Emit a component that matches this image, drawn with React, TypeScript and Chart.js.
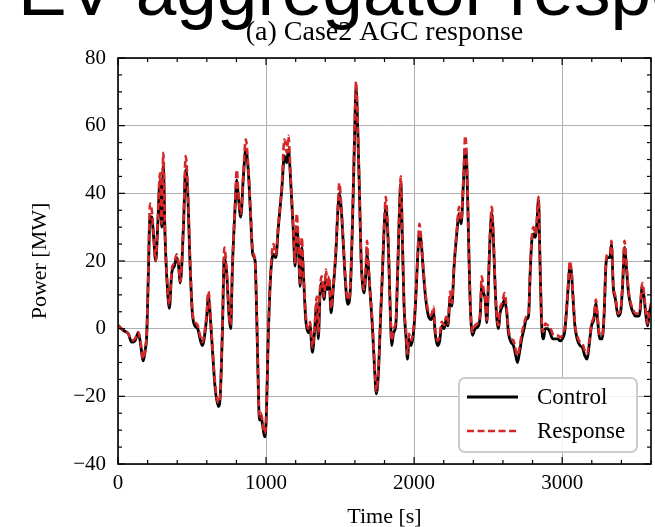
import React, { useEffect, useRef } from 'react';
import { Chart, registerables } from 'chart.js';

Chart.register(...registerables);

const MAIN_TITLE = 'EV aggregator response';
const SUBTITLE = '(a) Case2 AGC response';
const X_LABEL = 'Time [s]';
const Y_LABEL = 'Power [MW]';
const SERIES_LABELS = ['Control', 'Response'];
const X_TICKS = [0, 1000, 2000, 3000];
const Y_TICKS = [-40, -20, 0, 20, 40, 60, 80];

const TIME = [
  0, 35, 70, 92, 115, 137, 149, 171, 185, 194, 205, 216, 228, 239, 255, 268, 284, 295, 306, 318,
  333, 347, 363, 381, 396, 408, 421, 442, 457, 471, 486, 502, 520, 538, 554, 570, 588, 600, 610, 633,
  655, 678, 689, 705, 718, 734, 750, 761, 773, 791, 802, 813, 829, 847, 863, 881, 896, 910, 926, 937,
  948, 955, 965, 975, 990, 1000, 1016, 1032, 1050, 1066, 1083, 1106, 1124, 1140, 1151, 1167, 1185, 1196, 1207, 1219,
  1230, 1241, 1253, 1268, 1286, 1297, 1313, 1327, 1343, 1353, 1365, 1376, 1392, 1405, 1414, 1426, 1439, 1455, 1471, 1485,
  1495, 1507, 1523, 1538, 1552, 1568, 1583, 1597, 1608, 1620, 1631, 1642, 1653, 1662, 1674, 1682, 1691, 1703, 1718, 1732,
  1745, 1759, 1773, 1786, 1800, 1809, 1815, 1827, 1838, 1849, 1861, 1876, 1890, 1901, 1910, 1921, 1932, 1946, 1955, 1966,
  1980, 1996, 2011, 2025, 2036, 2047, 2063, 2079, 2097, 2115, 2131, 2142, 2158, 2171, 2187, 2203, 2216, 2228, 2243, 2255,
  2270, 2288, 2304, 2318, 2333, 2345, 2356, 2367, 2378, 2394, 2412, 2435, 2446, 2457, 2469, 2480, 2491, 2502, 2514, 2525,
  2536, 2547, 2559, 2570, 2581, 2597, 2610, 2626, 2637, 2655, 2671, 2682, 2698, 2712, 2727, 2743, 2757, 2773, 2784, 2795,
  2806, 2818, 2829, 2840, 2851, 2862, 2874, 2885, 2903, 2919, 2935, 2953, 2971, 2986, 3002, 3016, 3025, 3041, 3052, 3063,
  3074, 3086, 3101, 3120, 3137, 3153, 3169, 3182, 3198, 3214, 3228, 3239, 3255, 3270, 3284, 3295, 3306, 3322, 3333, 3345,
  3360, 3378, 3394, 3408, 3421, 3435, 3448, 3464, 3480, 3498, 3514, 3525, 3541, 3555, 3566, 3577, 3589, 3600,
];

const CONTROL = [
  1, -0.5, -1.5, -4, -3.6, -1.2, -3.5, -9.5, -6, -2, 16, 33, 33, 28, 20, 30, 44, 30, 48, 27,
  12.5, 6, 16.5, 18.5, 21, 19, 13.5, 30, 47, 40, 20, 4.7, 0.8, 0, -3, -5, -1, 4, 9.6, -3,
  -17, -23, -21, -1, 21, 16.5, 3.7, 0, 18.4, 36, 44, 39, 33, 45, 53, 46, 33, 22, 20, 3.7,
  -18, -27, -26, -28, -32, -28, -1, 16.5, 22, 21, 30, 41, 51, 49, 53, 43, 28, 18.5, 30, 24,
  12.5, 24, 15.5, 2.7, -1.2, 0.8, -7, -1.2, 7.6, -3, 10.6, 13.5, 8.6, 14.5, 11.6, 14.5, 4.7, 12.5, 22, 35,
  40, 36, 24, 12.5, 7.2, 10.6, 30, 55, 71, 58, 40, 20.4, 12.5, 10.6, 16.5, 22, 18.4, 10.6, 0.8, -11,
  -19.3, -13, 2.7, 16.5, 32, 36, 34, 23, 6.7, -5, -1.2, 0.8, 18.4, 35, 43, 26, 6.7, -3, -9, -3,
  -5, -1.2, 8.6, 22, 28, 26, 16.5, 8.6, 3.7, 2.7, 4.7, -1.2, -5, -4, 0.8, 0, 2.7, 0.8, 8.6, 6.7,
  18.4, 28, 34, 31, 43, 53, 48, 28, 8.6, -2, 0, 0.8, 3.7, 12.5, 10.6, 8.6, 1.8, 13.5, 28, 34,
  26, 12.5, 2.7, 0, 4.7, 6.7, 8.6, 4.7, -1.2, -4, -5, -7, -10, -7, -3, 0, 2.7, 3.7, 16.5, 26,
  28, 27, 31, 38, 18.4, 0.8, -3, 0, 0, -1.2, -3, -3, -3, -3.6, -3, -1.2, 2.7, 12.5, 18.4, 16.5,
  8.6, 0.8, -3, -5, -5.6, -8, -9, -5, 0.8, 2.7, 7.6, 2.7, -3, -3, 4.7, 18.4, 21, 21, 25, 12.5,
  8.6, 3.7, 4.7, 12.5, 24, 17.5, 10.6, 6.7, 4.7, 3.7, 3.7, 4.7, 12.5, 8.6, 3.7, 0.8, 4.7, 6.7,
];

const RESPONSE = [
  1, -0.5, -1.5, -3.5, -3, -1, -3, -9, -5.5, -1.5, 17, 37, 35, 29, 20, 32, 46, 31, 52, 28,
  13, 7, 17.5, 19.5, 22, 19.5, 14, 31, 51, 42, 21, 5.5, 2, 1, -2, -4, 0, 5, 11, -2,
  -16, -22, -20.5, 0, 24, 17, 4.5, 1, 19, 37, 47, 40, 34, 46, 56, 47, 34, 23, 20, 4,
  -17.5, -26, -25, -27, -31, -27.5, 0, 17.5, 25, 22, 31, 42, 56, 52, 57, 44, 29, 19.5, 34, 25,
  13.5, 27, 16, 4, 0, 2, -5.5, 0, 9.5, -1.5, 12, 15.5, 9.5, 17.5, 12.5, 15.5, 6, 13.5, 23, 36,
  43, 37, 25, 13.5, 8.5, 11.5, 31, 57, 73, 59, 41, 21, 13.5, 11.5, 19, 26, 19, 11, 2, -10,
  -18.5, -12, 3.5, 17.5, 33, 39, 36, 24, 7.5, -3.5, 0, 2, 19, 36, 45, 27, 7.5, -1, -7.5, -1.5,
  -3.5, 0, 9.5, 23, 31, 27, 17.5, 9.5, 5, 4, 6.5, 0, -3.5, -2.5, 2, 1, 3.5, 1.5, 11, 7.5,
  19, 29, 36, 32, 44, 57, 50, 29, 9.5, -1, 1, 2, 4.5, 15.5, 11.5, 9.5, 2.5, 14.5, 29, 36,
  27, 13.5, 3.5, 1, 6, 8, 10.5, 5.5, 0, -3, -3.5, -5.5, -8, -5.5, -1.5, 1.5, 3.5, 4.5, 17.5, 27,
  30, 28, 32, 39, 19, 2, -1, 1.5, 1, 0.5, -1.5, -2, -2, -2.5, -2, 0, 3.5, 13.5, 20, 17,
  9.5, 1.5, -2, -4, -4.5, -6.5, -7.5, -4, 1.5, 3.5, 8.6, 3.5, -2, -2, 5.5, 19, 22, 22, 26, 13.5,
  9.5, 4.5, 5.5, 13.5, 26, 18.5, 11.5, 7.5, 5.5, 4.5, 4.5, 5.5, 13.5, 9.5, 4.5, 1.5, 5.5, 7.5,
];

const SERIF = '"Liberation Serif", "Times New Roman", serif';
const SANS = '"Liberation Sans", Arial, sans-serif';
const RED = '#d62728';

const fmt = (v: number) => String(v).replace('-', '\u2212');

const decor = {
  id: 'decor',
  afterDatasetsDraw(chart: any) {
    const { ctx, chartArea: a, scales } = chart;
    const xs = scales.x;
    const ys = scales.y;
    ctx.save();
    ctx.strokeStyle = '#000';
    ctx.lineWidth = 1.2;
    const line = (x1: number, y1: number, x2: number, y2: number) => {
      ctx.beginPath();
      ctx.moveTo(x1, y1);
      ctx.lineTo(x2, y2);
      ctx.stroke();
    };
    for (let v = xs.min; v <= xs.max + 1e-6; v += 200) {
      const px = xs.getPixelForValue(v);
      const len = v % 1000 === 0 ? 7 : 4;
      line(px, a.bottom, px, a.bottom - len);
      line(px, a.top, px, a.top + len);
    }
    for (let v = ys.min; v <= ys.max + 1e-6; v += 5) {
      const py = ys.getPixelForValue(v);
      const len = v % 20 === 0 ? 7 : 4;
      line(a.left, py, a.left + len, py);
      line(a.right, py, a.right - len, py);
    }
    ctx.lineWidth = 1.6;
    ctx.strokeRect(a.left, a.top, a.right - a.left, a.bottom - a.top);
    ctx.restore();
  },
  afterDraw(chart: any) {
    const { ctx, chartArea: a } = chart;
    ctx.save();
    // main (cropped) title
    ctx.fillStyle = '#000';
    ctx.font = `73px ${SANS}`;
    ctx.textAlign = 'left';
    ctx.textBaseline = 'alphabetic';
    ctx.fillText(MAIN_TITLE, 18, 15);
    // subtitle
    ctx.font = `28px ${SERIF}`;
    ctx.textAlign = 'center';
    ctx.fillText(SUBTITLE, (a.left + a.right) / 2, 40);
    // legend
    const lx = 459, ly = 378, lw = 178, lh = 74;
    ctx.beginPath();
    ctx.roundRect(lx, ly, lw, lh, 6);
    ctx.fillStyle = 'rgba(255,255,255,0.85)';
    ctx.fill();
    ctx.strokeStyle = '#cccccc';
    ctx.lineWidth = 2;
    ctx.stroke();
    const ds = chart.data.datasets;
    const rows = [397, 431];
    ds.forEach((d: any, i: number) => {
      const y = rows[i];
      ctx.beginPath();
      ctx.strokeStyle = d.borderColor;
      ctx.lineWidth = d.borderWidth;
      ctx.setLineDash(d.borderDash || []);
      ctx.moveTo(467, y);
      ctx.lineTo(518, y);
      ctx.stroke();
      ctx.setLineDash([]);
      ctx.fillStyle = '#000';
      ctx.font = `23px ${SERIF}`;
      ctx.textAlign = 'left';
      ctx.textBaseline = 'middle';
      ctx.fillText(d.label, 537, y + 1);
    });
    ctx.restore();
  },
};

export default function App() {
  const ref = useRef<HTMLCanvasElement | null>(null);
  useEffect(() => {
    if (!ref.current) return;
    const control = TIME.map((t, i) => ({ x: t, y: CONTROL[i] }));
    const response = TIME.map((t, i) => ({ x: t, y: RESPONSE[i] }));
    const chart = new Chart(ref.current, {
      type: 'line',
      data: {
        datasets: [
          {
            label: SERIES_LABELS[0],
            data: control,
            borderColor: '#000000',
            borderWidth: 2.8,
            pointRadius: 0,
            fill: false,
            cubicInterpolationMode: 'monotone',
            order: 2,
          },
          {
            label: SERIES_LABELS[1],
            data: response,
            borderColor: RED,
            borderWidth: 2.6,
            borderDash: [7, 3.5],
            pointRadius: 0,
            fill: false,
            cubicInterpolationMode: 'monotone',
            order: 1,
          },
        ],
      },
      options: {
        responsive: false,
        animation: false,
        events: [],
        layout: { padding: { top: 58, right: 4, left: 0, bottom: 0 } },
        plugins: { legend: { display: false }, tooltip: { enabled: false }, title: { display: false } },
        scales: {
          x: {
            type: 'linear',
            min: 0,
            max: 3600,
            afterFit: (s: any) => { s.height = 63; },
            afterBuildTicks: (s: any) => { s.ticks = X_TICKS.map((v) => ({ value: v })); },
            grid: { color: '#b0b0b0', lineWidth: 1, drawTicks: false },
            border: { display: false },
            ticks: {
              color: '#000',
              font: { family: SERIF, size: 21 },
              padding: 7,
              maxRotation: 0,
              autoSkip: false,
              callback: (v: any) => fmt(v),
            },
            title: {
              display: true,
              text: X_LABEL,
              color: '#000',
              font: { family: SERIF, size: 22, lineHeight: 1 },
              padding: { top: 0, bottom: -1 },
            },
          },
          y: {
            type: 'linear',
            min: -40,
            max: 80,
            afterFit: (s: any) => { s.width = 118; },
            afterBuildTicks: (s: any) => { s.ticks = Y_TICKS.map((v) => ({ value: v })); },
            grid: { color: '#b0b0b0', lineWidth: 1, drawTicks: false },
            border: { display: false },
            ticks: {
              color: '#000',
              font: { family: SERIF, size: 21 },
              padding: 12,
              callback: (v: any) => fmt(v),
            },
            title: {
              display: true,
              text: Y_LABEL,
              color: '#000',
              font: { family: SERIF, size: 22, lineHeight: 1 },
              padding: { top: 29, bottom: 0 },
            },
          },
        },
      },
      plugins: [decor],
    });
    return () => chart.destroy();
  }, []);
  return (
    <div style={{ position: 'absolute', left: 0, top: 0, width: 655, height: 527, background: '#fff' }}>
      <canvas ref={ref} width={655} height={527} />
    </div>
  );
}
